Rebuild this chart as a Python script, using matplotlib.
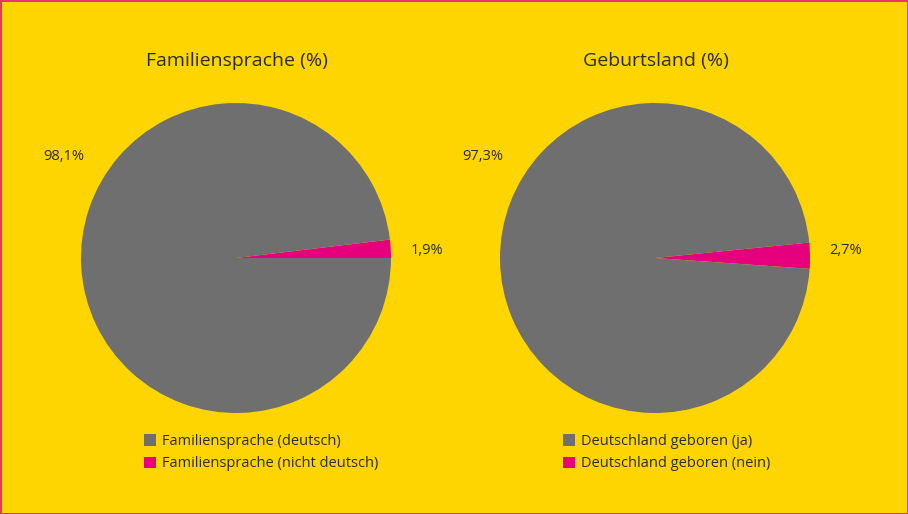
import matplotlib.pyplot as plt
from matplotlib.patches import Patch

# data
titles = ["Familiensprache (%)", "Geburtsland (%)"]
share_minor = [1.9, 2.7]
share_major = [98.1, 97.3]
legend_major = ["Familiensprache (deutsch)", "Deutschland geboren (ja)"]
legend_minor = ["Familiensprache (nicht deutsch)", "Deutschland geboren (nein)"]

yellow = "#FFD500"
gray = "#6F6F6F"
pink = "#E6007E"
text_color = "#2B2B2B"

plt.rcParams["font.family"] = ["Open Sans", "DejaVu Sans"]

fig = plt.figure(figsize=(9.08, 5.14), dpi=100, facecolor=yellow)
fig.patch.set_edgecolor("#E8336E")
fig.patch.set_linewidth(2)

W, H = 908, 514
centers_x = [236, 655]
start_angles = [0, -4]
cy, r = 258, 155


def fmt(v):
    return f"{v:.1f}%".replace(".", ",")


for i in range(2):
    cx = centers_x[i]
    ax = fig.add_axes([(cx - r) / W, (H - cy - r) / H, 2 * r / W, 2 * r / H])
    ax.set_facecolor("none")
    ax.pie(
        [share_minor[i], share_major[i]],
        colors=[pink, gray],
        startangle=start_angles[i],
        counterclock=True,
        radius=1,
        wedgeprops=dict(linewidth=0),
    )
    ax.set_xlim(-1, 1)
    ax.set_ylim(-1, 1)
    ax.set_aspect("equal")
    ax.axis("off")

    ax.text(-1.11, 0.655, fmt(share_major[i]), ha="center", va="center",
            fontsize=10.5, color=text_color)
    ax.text(1.23, 0.05, fmt(share_minor[i]), ha="center", va="center",
            fontsize=10.5, color=text_color)

    fig.text((cx + 1) / W, (H - 61) / H, titles[i], ha="center", va="center",
             fontsize=14, color=text_color)

    handles = [Patch(facecolor=gray, label=legend_major[i]),
               Patch(facecolor=pink, label=legend_minor[i])]
    fig.legend(
        handles=handles,
        loc="upper left",
        bbox_to_anchor=((cx - 92) / W, (H - 434) / H),
        frameon=False,
        handlelength=0.8,
        handleheight=0.8,
        handletextpad=0.45,
        labelspacing=0.5,
        borderaxespad=0,
        borderpad=0,
        fontsize=10.5,
        labelcolor=text_color,
    )

plt.savefig("out.png", dpi=100, facecolor=yellow, edgecolor=fig.patch.get_edgecolor())
